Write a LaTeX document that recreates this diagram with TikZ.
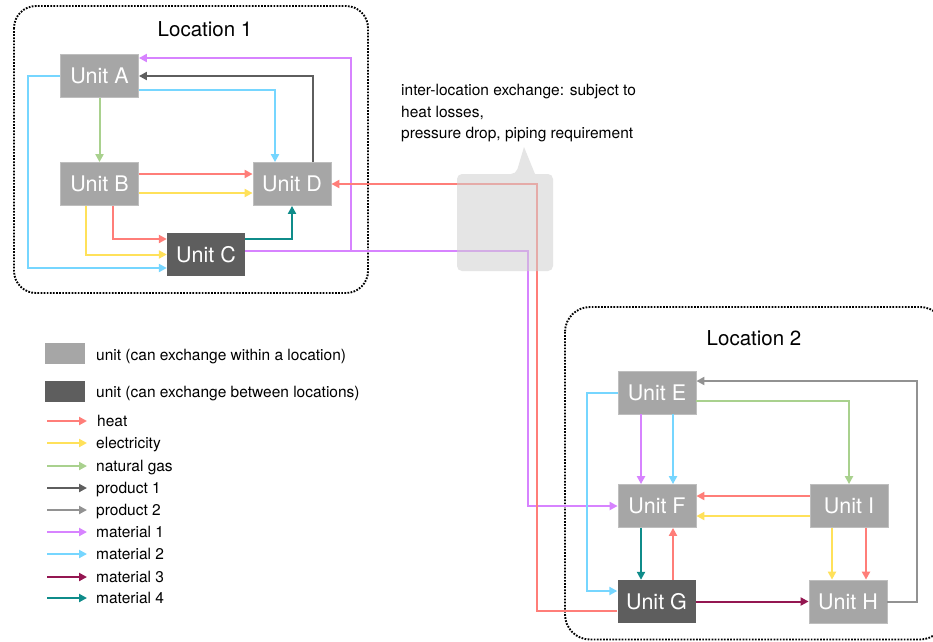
\documentclass[tikz,border=0pt]{standalone}
\usepackage{fontspec}
\setmainfont{TeX Gyre Heros}
\usetikzlibrary{arrows.meta,calc}

\definecolor{unitlight}{HTML}{A6A6A6}
\definecolor{unitlightedge}{HTML}{BEBEBE}
\definecolor{unitdark}{HTML}{5E5E5E}
\definecolor{cheat}{HTML}{FF7E79}
\definecolor{celec}{HTML}{FFE15A}
\definecolor{cgas}{HTML}{A9D18E}
\definecolor{cprodA}{HTML}{5E5E5E}
\definecolor{cprodB}{HTML}{929292}
\definecolor{cmatA}{HTML}{D783FF}
\definecolor{cmatB}{HTML}{76D6FF}
\definecolor{cmatC}{HTML}{941651}
\definecolor{cmatD}{HTML}{0F8C8A}
\definecolor{bubble}{HTML}{D0D0D0}

\begin{document}
\begin{tikzpicture}[x=1pt,y=-1pt,
  unitbox/.style={minimum width=78pt, minimum height=43pt, inner sep=0pt,
    text=white, font=\fontsize{21.5}{25}\selectfont},
  lightunit/.style={unitbox, fill=unitlight, draw=unitlightedge, line width=0.8pt},
  darkunit/.style={unitbox, fill=unitdark},
  flow/.style={line width=2pt, -{Triangle[length=8pt,width=8pt]}},
  fheat/.style={flow, draw=cheat},
  felec/.style={flow, draw=celec},
  fgas/.style={flow, draw=cgas},
  fprodA/.style={flow, draw=cprodA},
  fprodB/.style={flow, draw=cprodB},
  fmatA/.style={flow, draw=cmatA},
  fmatB/.style={flow, draw=cmatB},
  fmatC/.style={flow, draw=cmatC},
  fmatD/.style={flow, draw=cmatD},
  locframe/.style={draw=black, line width=1.9pt, dash pattern=on 1.7pt off 1.4pt},
  loctitle/.style={font=\fontsize{20.5}{24}\selectfont},
  legtext/.style={anchor=base west, inner sep=0pt, font=\fontsize{15.5}{18}\selectfont},
  notetext/.style={anchor=base west, inner sep=0pt, font=\fontsize{15.5}{18}\selectfont},
  legbox/.style={minimum width=40pt, minimum height=21pt, inner sep=0pt},
]
\useasboundingbox (0,0) rectangle (933,641);
\fill[white] (0,0) rectangle (933,641);
\clip (0,0) rectangle (933,641);

% ---- location frames ----
\draw[locframe, rounded corners=22pt] (14,6) rectangle (368,293);
\node[loctitle] (loc1) at (205,29) {Location 1};
\draw[locframe, rounded corners=25pt] (565,307) rectangle (945,639.5);
\node[loctitle] (loc2) at (754,338) {Location 2};

% ---- units, location 1 ----
\node[lightunit] (A) at (99.5,76) {Unit A};
\node[lightunit] (B) at (99.5,184) {Unit B};
\node[lightunit] (D) at (292,184) {Unit D};
\node[darkunit]  (C) at (206,254.5) {Unit C};

% ---- units, location 2 ----
\node[lightunit] (E) at (657,392.5) {Unit E};
\node[lightunit] (F) at (657,506) {Unit F};
\node[darkunit]  (G) at (656.5,601.5) {Unit G};
\node[lightunit] (I) at (849,506) {Unit I};
\node[lightunit] (H) at (848,601.5) {Unit H};

% bend points of the long runs
\coordinate (mAup)   at (351,58);
\coordinate (mAdrop) at (528,400);
\coordinate (hdrop)  at (537,400);
\coordinate (bleft1) at (28,150);
\coordinate (bleft2) at (587,480);
\coordinate (pBbend) at (917,381);

% ---- flows, location 1 ----
\draw[fgas] (A.south) -- (B.north);
\draw[fmatB] ([yshift=-14pt]A.east) -| ([xshift=-17pt]D.north);
\draw[fprodA] ([xshift=21pt]D.north) |- (A.east);
\draw[fmatB] (A.west) -| (bleft1) |- ([yshift=-13.5pt]C.west);
\draw[fheat] ([yshift=10pt]B.east) -- ([yshift=10pt]D.west);
\draw[felec] ([yshift=-9pt]B.east) -- ([yshift=-9pt]D.west);
\draw[felec] ([xshift=-13.5pt]B.south) |- (C.west);
\draw[fheat] ([xshift=13.5pt]B.south) |- ([yshift=15.5pt]C.west);
\draw[fmatD] ([yshift=15.5pt]C.east) -| (D.south);
\draw[fmatA] ([yshift=4pt]C.east) -| (mAup) -- ([yshift=18pt]A.east);

% ---- flows between locations ----
\draw[fmatA] ([yshift=4pt]C.east) -| (mAdrop) |- (F.west);
\draw[fheat] ([yshift=-9.5pt]G.west) -| (hdrop) |- (D.east);

% ---- flows, location 2 ----
\draw[fprodB] (H.east) -| (pBbend) -- ([yshift=11.5pt]E.east);
\draw[fgas] ([yshift=-8.5pt]E.east) -| (I.north);
\draw[fmatB] (E.west) -| (bleft2) |- ([yshift=10.5pt]G.west);
\draw[fmatA] ([xshift=-16pt]E.south) -- ([xshift=-16pt]F.north);
\draw[fmatB] ([xshift=16pt]E.south) -- ([xshift=16pt]F.north);
\draw[fheat] ([yshift=10pt]I.west) -- ([yshift=10pt]F.east);
\draw[felec] ([yshift=-10pt]I.west) -- ([yshift=-10pt]F.east);
\draw[fmatD] ([xshift=-16pt]F.south) -- ([xshift=-15.5pt]G.north);
\draw[fheat] ([xshift=16.5pt]G.north) -- ([xshift=16pt]F.south);
\draw[felec] ([xshift=-17pt]I.south) -- ([xshift=-16pt]H.north);
\draw[fheat] ([xshift=17pt]I.south) -- ([xshift=18pt]H.north);
\draw[fmatC] (G.east) -- (H.west);

% ---- speech bubble over the inter-location runs ----
\fill[bubble, fill opacity=0.55, rounded corners=5pt]
  (457,223) -- (457,174) -- (516,174) [sharp corners] -- (524,147) -- (535,174)
  [rounded corners=5pt] -- (553,174) -- (553,271) -- (457,271) -- cycle;
\node[notetext] (note1) at (401,95.5) {inter-location exchange: subject to};
\node[notetext] (note2) at (401,117) {heat losses,};
\node[notetext] (note3) at (401,138.5) {pressure drop, piping requirement};

% ---- legend ----
\node[legbox, fill=unitlight] (lgL) at (65,353.5) {};
\node[legtext] (lgLt) at (96,360) {unit (can exchange within a location)};
\node[legbox, fill=unitdark] (lgD) at (65,391) {};
\node[legtext] (lgDt) at (96,397) {unit (can exchange between locations)};

\node[legtext] (lg1) at (97,426)  {heat};
\node[legtext] (lg2) at (96,448)  {electricity};
\node[legtext] (lg3) at (96,471)  {natural gas};
\node[legtext] (lg4) at (96,493)  {product 1};
\node[legtext] (lg5) at (96,515)  {product 2};
\node[legtext] (lg6) at (96,537)  {material 1};
\node[legtext] (lg7) at (96,559)  {material 2};
\node[legtext] (lg8) at (96,582)  {material 3};
\node[legtext] (lg9) at (96,603)  {material 4};

\draw[fheat]  ([xshift=-50pt,yshift=5pt]lg1.base west) -- ([xshift=-10pt,yshift=5pt]lg1.base west);
\draw[felec]  ([xshift=-49pt,yshift=5pt]lg2.base west) -- ([xshift=-9pt,yshift=5pt]lg2.base west);
\draw[fgas]   ([xshift=-49pt,yshift=5pt]lg3.base west) -- ([xshift=-9pt,yshift=5pt]lg3.base west);
\draw[fprodA] ([xshift=-49pt,yshift=5pt]lg4.base west) -- ([xshift=-9pt,yshift=5pt]lg4.base west);
\draw[fprodB] ([xshift=-49pt,yshift=5pt]lg5.base west) -- ([xshift=-9pt,yshift=5pt]lg5.base west);
\draw[fmatA]  ([xshift=-49pt,yshift=5pt]lg6.base west) -- ([xshift=-9pt,yshift=5pt]lg6.base west);
\draw[fmatB]  ([xshift=-49pt,yshift=5pt]lg7.base west) -- ([xshift=-9pt,yshift=5pt]lg7.base west);
\draw[fmatC]  ([xshift=-49pt,yshift=5pt]lg8.base west) -- ([xshift=-9pt,yshift=5pt]lg8.base west);
\draw[fmatD]  ([xshift=-49pt,yshift=5pt]lg9.base west) -- ([xshift=-9pt,yshift=5pt]lg9.base west);
\end{tikzpicture}
\end{document}
